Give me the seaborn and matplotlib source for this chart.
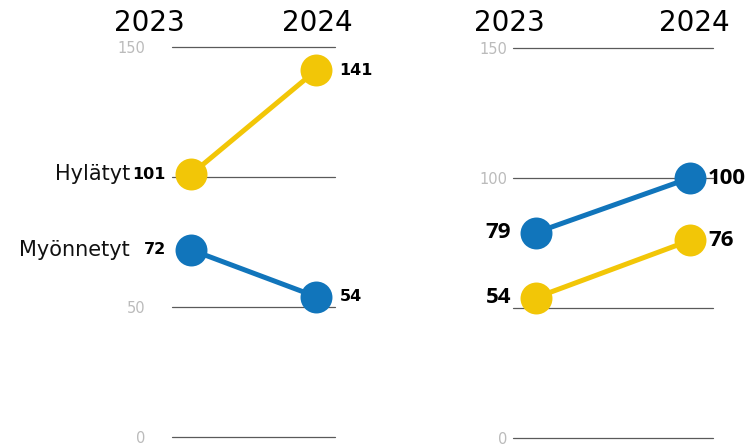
import matplotlib
matplotlib.use("Agg")
import matplotlib.pyplot as plt
import seaborn as sns
import pandas as pd

years = ["2023", "2024"]
series_names = ["Hylätyt", "Myönnetyt"]
left_hylatyt = [101, 141]
left_myonnetyt = [72, 54]
right_hylatyt = [54, 76]
right_myonnetyt = [79, 100]
left_ticks = [0, 50, 150]
right_ticks = [0, 100, 150]
grid_values = [0, 50, 100, 150]

YELLOW = "#F2C607"
BLUE = "#1175BB"

sns.set_theme(style="white")
plt.rcParams["font.family"] = ["DejaVu Sans"]

fig = plt.figure(figsize=(7.45, 4.45), dpi=100)
W, H = 745, 445
axL = fig.add_axes([172 / W, 8 / H, 163 / W, 390 / H])
axR = fig.add_axes([513 / W, 7 / H, 200 / W, 390 / H])


def draw(ax, hyl, myo, ticks, pad, xlim, left_names, val_size, val_family, left_off, right_off):
    df = pd.DataFrame({
        "x": [0, 1, 0, 1],
        "value": hyl + myo,
        "series": [series_names[0]] * 2 + [series_names[1]] * 2,
    })
    for v in grid_values:
        ax.axhline(v, color="#5a5a5a", lw=0.9, zorder=1, clip_on=False)
    sns.lineplot(data=df, x="x", y="value", hue="series",
                 palette={series_names[0]: YELLOW, series_names[1]: BLUE},
                 marker="o", markersize=23, markeredgewidth=0,
                 linewidth=3.6, legend=False, ax=ax, zorder=3)
    ax.set_xlim(*xlim)
    ax.set_ylim(0, 150)
    ax.set_xticks([])
    ax.set_yticks(ticks)
    ax.set_yticklabels([str(t) for t in ticks])
    ax.tick_params(axis="y", length=0, pad=pad, labelsize=10.5, labelcolor="#BBBBBB")
    ax.set_xlabel("")
    ax.set_ylabel("")
    for s in ax.spines.values():
        s.set_visible(False)
    ax.patch.set_alpha(0)
    for name, vals in zip(series_names, [hyl, myo]):
        ax.annotate(str(vals[0]), (0, vals[0]), xytext=(left_off, 0),
                    textcoords="offset points", ha="right", va="center",
                    fontsize=val_size, fontweight="bold", family=val_family,
                    color="black", zorder=5)
        ax.annotate(str(vals[1]), (1, vals[1]), xytext=(right_off, 0),
                    textcoords="offset points", ha="left", va="center",
                    fontsize=val_size, fontweight="bold", family=val_family,
                    color="black", zorder=5)
        if left_names:
            ax.annotate(name, (0, vals[0]), xytext=(-44, 0),
                        textcoords="offset points", ha="right", va="center",
                        fontsize=15, color="#111111", zorder=5)


draw(axL, left_hylatyt, left_myonnetyt, left_ticks, 19, (-0.152, 1.152), True,
     11.5, ["DejaVu Sans"], -18, 17)
draw(axR, right_hylatyt, right_myonnetyt, right_ticks, 4, (-0.149, 1.149), False,
     16, ["Open Sans", "DejaVu Sans"], -18, 13)

# year headers
for ax, offs in [(axL, (-30, 1)), (axR, (-19, 3))]:
    for i, yr in enumerate(years):
        ax.annotate(yr, (i, 0.948), xycoords=("data", "figure fraction"),
                    xytext=(offs[i], 0), textcoords="offset points",
                    ha="center", va="center", fontsize=20, color="black",
                    annotation_clip=False)

fig.savefig("out.png", dpi=100)
